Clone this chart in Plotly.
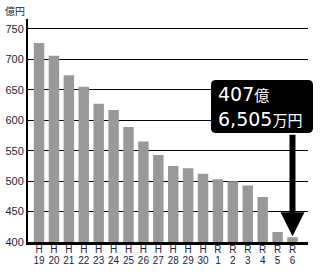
import plotly.graph_objects as go

eras = ["H"] * 12 + ["R"] * 6
years = [19, 20, 21, 22, 23, 24, 25, 26, 27, 28, 29, 30, 1, 2, 3, 4, 5, 6]
values = [727, 706, 674, 655, 627, 617, 589, 565, 543, 525, 521, 512,
          503, 500, 493, 474, 416.5, 407.65]
idx = list(range(len(values)))

W, H = 321, 272
L, R, T, B = 28, 13, 19, 30
pw, ph = W - L - R, H - T - B

fig = go.Figure()
fig.add_trace(go.Bar(x=idx, y=values, marker=dict(color="#999999", line=dict(width=0)),
                     width=0.7, hoverinfo="skip"))
fig.add_trace(go.Scatter(x=idx, y=values, xaxis="x2", mode="markers",
                         marker=dict(opacity=0), hoverinfo="skip"))

txt_col = "#1c1c40"
xr = [-0.74, 18.04]
fig.update_layout(
    width=W, height=H, margin=dict(l=L, r=R, t=T, b=B, autoexpand=False),
    paper_bgcolor="white", plot_bgcolor="white", showlegend=False,
    xaxis=dict(range=xr, tickvals=idx, ticktext=[str(y) for y in years],
               showgrid=False, showline=True, linecolor="black", linewidth=3,
               ticks="", tickfont=dict(family="Liberation Sans", size=10, color=txt_col),
               zeroline=False, fixedrange=True, automargin=False, ticklabelstandoff=7),
    xaxis2=dict(range=xr, overlaying="x", side="bottom", anchor="y", tickvals=idx,
                ticktext=eras, showgrid=False, showline=False, ticks="",
                tickfont=dict(family="Liberation Sans", size=10, color=txt_col),
                zeroline=False, fixedrange=True, automargin=False, ticklabelstandoff=0),
    yaxis=dict(range=[400, 766.4], tickvals=[400, 450, 500, 550, 600, 650, 700, 750],
               showgrid=True, gridcolor="black", gridwidth=1,
               showline=True, linecolor="black", linewidth=2, ticks="",
               tickfont=dict(family="Liberation Sans", size=11, color=txt_col),
               zeroline=False, fixedrange=True, automargin=False),
)

# unit label
fig.add_annotation(text="億円", xref="paper", yref="paper",
                   x=(15 - L) / pw, y=1 + (T - 11) / ph, showarrow=False,
                   xanchor="center", yanchor="middle",
                   font=dict(family="Noto Sans CJK JP", size=10, color=txt_col))

# rounded callout box
x0, x1, y0, y1 = 211, 313, 80, 133
r = 5
def px(x): return (x - L) / pw
def py(y): return 1 - (y - T) / ph
path = (f"M {px(x0+r)},{py(y0)} L {px(x1-r)},{py(y0)} Q {px(x1)},{py(y0)} {px(x1)},{py(y0+r)} "
        f"L {px(x1)},{py(y1-r)} Q {px(x1)},{py(y1)} {px(x1-r)},{py(y1)} "
        f"L {px(x0+r)},{py(y1)} Q {px(x0)},{py(y1)} {px(x0)},{py(y1-r)} "
        f"L {px(x0)},{py(y0+r)} Q {px(x0)},{py(y0)} {px(x0+r)},{py(y0)} Z")
fig.add_shape(type="path", path=path, xref="paper", yref="paper",
              fillcolor="black", line=dict(width=0), layer="above")

fig.add_annotation(
    text="407<span style='font-size:15px'>億</span><br>6,505<span style='font-size:15px'>万円</span>",
    xref="paper", yref="paper", x=px(x0 + 5), y=py((y0 + y1) / 2),
    xanchor="left", yanchor="middle", align="left", showarrow=False,
    font=dict(family="DejaVu Sans, Noto Sans CJK JP", size=19, color="white"))

# arrow to last bar
fig.add_annotation(x=idx[-1], y=values[-1], xref="x", yref="y", text="",
                   showarrow=True, ax=0, ay=-(237 - y1), arrowcolor="black",
                   arrowwidth=6, arrowhead=2, arrowsize=0.8, standoff=1)

fig.write_html("out.html")
